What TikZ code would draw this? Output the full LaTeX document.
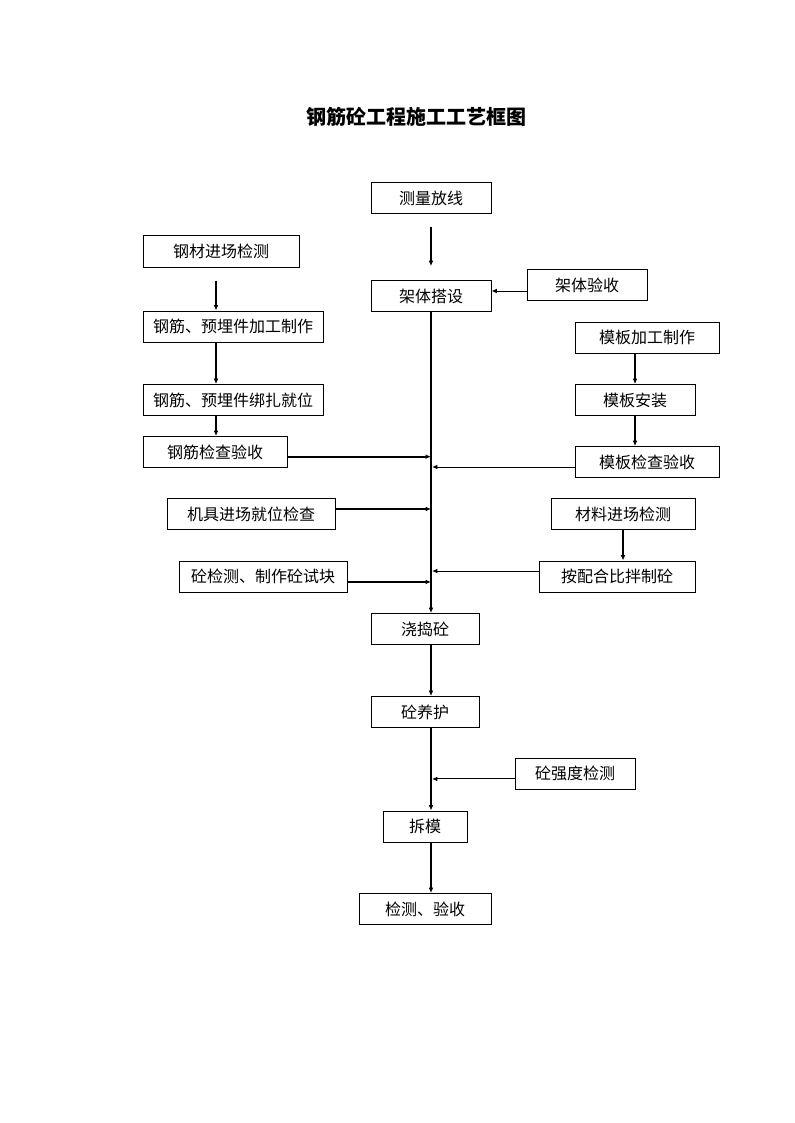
\documentclass[tikz,border=0pt]{standalone}
\usepackage{fontspec}
\newfontfamily\cjk{Noto Sans CJK SC}
\usetikzlibrary{arrows.meta}
\begin{document}
\begin{tikzpicture}[x=0.75pt,y=-0.75pt,
  box/.style={draw, line width=0.75pt, inner sep=0pt, font=\cjk\fontsize{12}{14}\selectfont, minimum height=23.25pt},
  tk/.style={line width=1.5pt, -{Latex[length=4pt,width=3.5pt]}},
  tn/.style={line width=0.75pt, -{Latex[length=4pt,width=3.5pt]}}
]
\fill[white] (0,0) rectangle (794,1123);
\useasboundingbox (0,0) rectangle (794,1123);

\node (title) at (416.5,117) {\cjk\bfseries\fontsize{15}{18}\selectfont 钢筋砼工程施工工艺框图};

\coordinate (S) at (431,0);
\coordinate (L) at (216,0);

\node[box, minimum width=90pt] (cl) at (431,198.5) {测量放线};
\node[box, minimum width=90pt] (jt) at (431,296) {架体搭设};
\node[box, minimum width=90pt] (jy) at (587,285) {架体验收};

\node[box, minimum width=117pt] (gc) at (221,251.5) {钢材进场检测};
\node[box, minimum width=135pt] (gj) at (233,326.5) {钢筋、预埋件加工制作};
\node[box, minimum width=135pt] (gb) at (233,400) {钢筋、预埋件绑扎就位};
\node[box, minimum width=108pt] (gy) at (215,452) {钢筋检查验收};

\node[box, minimum width=108pt] (mj) at (647,337.5) {模板加工制作};
\node[box, minimum width=90pt] (ma) at (635,400) {模板安装};
\node[box, minimum width=108pt] (mk) at (647,462) {模板检查验收};

\node[box, minimum width=126pt] (jj) at (251,514) {机具进场就位检查};
\node[box, minimum width=108pt] (cj) at (623,514) {材料进场检测};
\node[box, minimum width=126pt] (tj) at (263,576.5) {砼检测、制作砼试块};
\node[box, minimum width=117pt] (ap) at (617,576.5) {按配合比拌制砼};

\node[box, minimum width=81pt] (jd) at (425,629) {浇捣砼};
\node[box, minimum width=81pt] (yh) at (425,712) {砼养护};
\node[box, minimum width=90pt] (qd) at (575,773.5) {砼强度检测};
\node[box, minimum width=63pt] (cm) at (425,826.5) {拆模};
\node[box, minimum width=99pt] (ys) at (425,909) {检测、验收};

% main line
\draw[tk, shorten <=9.75pt, shorten >=10.5pt] (cl) -- (jt);
\draw[tn] ([yshift=-4.5pt]jy.west) -- ([yshift=-4.5pt]jy.west -| jt.east);
\draw[tk] (jt.south) -- (jt.south |- jd.north);

% left column
\draw[tk, shorten <=9.75pt] (gc.south -| L) -- (gj.north -| L);
\draw[tk] (gj.south -| L) -- (gb.north -| L);
\draw[tk] (gb.south -| L) -- (gy.north -| L);
\draw[tk] ([yshift=-3.5pt]gy.east) -- ([yshift=-3.5pt]gy.east -| S);
\draw[tk] ([yshift=3.75pt]jj.east) -- ([yshift=3.75pt]jj.east -| S);
\draw[tk] ([yshift=-4.1pt]tj.east) -- ([yshift=-4.1pt]tj.east -| S);

% right column
\draw[tk] (mj.south -| ma.south) -- (ma.north);
\draw[tk] (ma.south) -- (ma.south |- mk.north);
\draw[tn, shorten >=0.75pt] ([yshift=-3.75pt]mk.west) -- ([yshift=-3.75pt]mk.west -| S);
\draw[tk] (cj.south) -- (cj.south |- ap.north);
\draw[tn, shorten >=0.75pt] ([yshift=4.1pt]ap.west) -- ([yshift=4.1pt]ap.west -| S);

% lower part
\draw[tk] (jd.south -| S) -- (yh.north -| S);
\draw[tk] (yh.south -| S) -- (cm.north -| S);
\draw[tn, shorten >=0.75pt] ([yshift=-4.1pt]qd.west) -- ([yshift=-4.1pt]qd.west -| S);
\draw[tk] (cm.south -| S) -- (ys.north -| S);
\end{tikzpicture}
\end{document}
